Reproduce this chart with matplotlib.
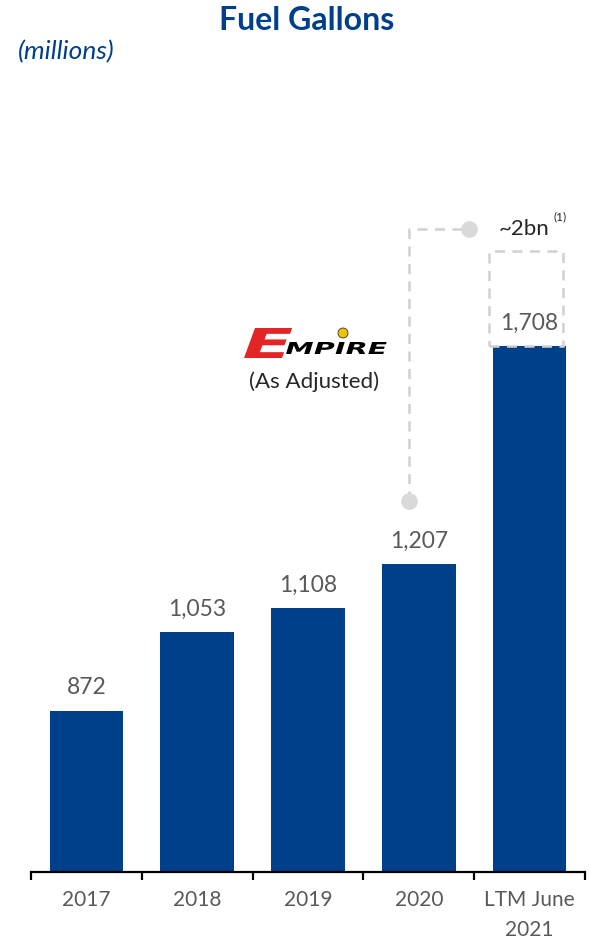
import matplotlib.pyplot as plt
from matplotlib.patches import Rectangle, Circle, PathPatch
from matplotlib.textpath import TextPath
from matplotlib.font_manager import FontProperties
from matplotlib.transforms import Affine2D, IdentityTransform

# Fuel gallons (millions) by period
categories = ['2017', '2018', '2019', '2020', 'LTM June\n2021']
gallons = [872, 1053, 1108, 1207, 1708]
value_labels = ['872', '1,053', '1,108', '1,207', '1,708']
# pro forma total incl. pending acquisitions (dashed box)
proforma_total = 1925
proforma_label = '~2bn'

navy = '#00408A'
gray_text = '#595959'
dash_gray = '#D0D0D0'

plt.rcParams['font.family'] = ['Lato', 'DejaVu Sans']

W, H = 590, 944
fig = plt.figure(figsize=(W / 100, H / 100), dpi=100)
ax = fig.add_axes([0.0525, 0.0763, 0.939, 0.712])

x = list(range(len(categories)))
width = 0.665
ax.bar(x, gallons, width, color=navy, zorder=2)

ax.set_xlim(-0.5, len(categories) - 0.5)
ax.set_ylim(502, 2043)

for xi, v, lab in zip(x, gallons, value_labels):
    ax.text(xi, v + 52, lab, ha='center', va='center',
            fontsize=16.5, color=gray_text)

# dashed box on top of last bar showing the pro forma total
last = len(categories) - 1
ax.add_patch(Rectangle((last - 0.035 - width / 2, gallons[last]), width,
                       proforma_total - gallons[last], fill=False,
                       edgecolor=dash_gray, lw=1.8, ls=(0, (4, 3)), zorder=3))

# connector from 2020 to the ~2bn callout
cx = 2.91
ax.plot([cx, cx, 3.45], [1353, 1977, 1977], color=dash_gray, lw=1.8,
        ls=(0, (4, 3)), zorder=1, clip_on=False)
ax.plot([cx, 3.45], [1353, 1977], ls='none', marker='o', ms=11,
        color='#D9D9D9', zorder=2, clip_on=False)
ax.text(3.72, 1977, proforma_label, ha='left', va='center', fontsize=16,
        color='#262626')
ax.text(4.22, 2003, '(1)', ha='left', va='center', fontsize=8.5,
        color='#262626')

# axis styling: only the baseline with boundary ticks
for s in ['top', 'right', 'left']:
    ax.spines[s].set_visible(False)
ax.spines['bottom'].set_linewidth(1.6)
ax.set_yticks([])
ax.set_xticks([i - 0.5 for i in range(len(categories) + 1)])
ax.set_xticklabels([])
ax.tick_params(axis='x', which='major', length=6, width=1.6, direction='out')
ax.set_xticks(x, minor=True)
ax.set_xticklabels(categories, minor=True, fontsize=15, color=gray_text,
                   linespacing=1.6)
ax.tick_params(axis='x', which='minor', length=0, pad=13)

# titles
fig.text(0.52, 1 - 21 / H, 'Fuel Gallons', ha='center', va='center',
         fontsize=23, fontweight='bold', color=navy)
fig.text(18 / W, 1 - 52 / H, '(millions)', ha='left', va='center',
         fontsize=19, fontstyle='italic', color=navy)


def boxed_text(s, x0, x1, y0, y1, color, skew=0.25):
    # draw a text path stretched into a pixel box (y measured from top)
    prop = FontProperties(family='DejaVu Sans', weight='heavy')
    tp = TextPath((0, 0), s, size=1, prop=prop)
    ext = tp.get_extents()
    sx = (x1 - x0) / ext.width / (1 + skew * 0.3)
    sy = (y1 - y0) / ext.height
    tr = (Affine2D().translate(-ext.x0, -ext.y0).scale(sx, sy)
          .skew(skew, 0).translate(x0, H - y1))
    fig.add_artist(PathPatch(tr.transform_path(tp), facecolor=color,
                             edgecolor='none', transform=IdentityTransform()))


# Empire logo
boxed_text('E', 244, 286, 328, 358, '#E32526', skew=0.35)
boxed_text('MPIRE', 286, 392, 342, 354, 'black', skew=0.3)
fig.add_artist(Circle((343, H - 333), 5, transform=IdentityTransform(),
                      facecolor='#F2C200', edgecolor='#333333', lw=0.6))
fig.text(314 / W, 1 - 382 / H, '(As Adjusted)', ha='center',
         va='center', fontsize=16, color='#262626')

fig.savefig('out.png', dpi=100)
